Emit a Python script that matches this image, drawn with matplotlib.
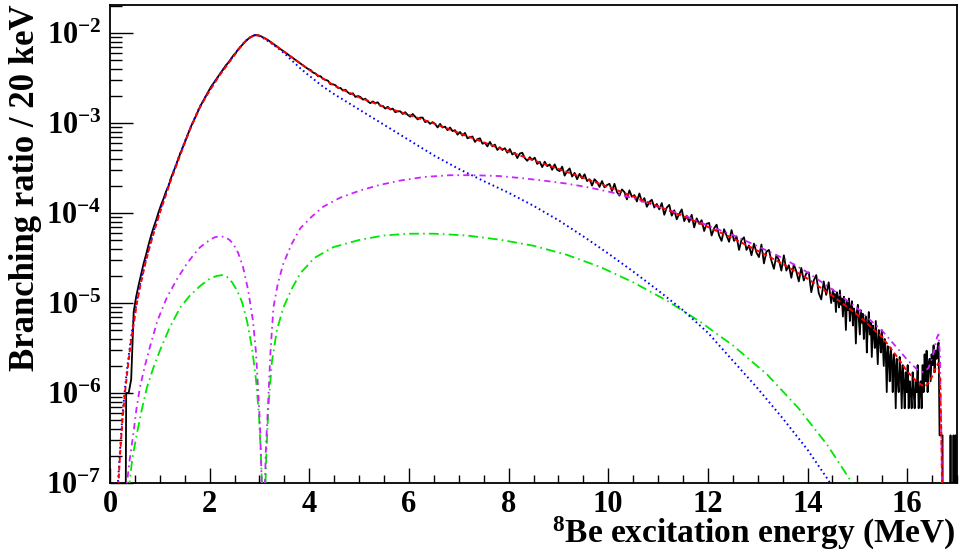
import numpy as np
import matplotlib
matplotlib.use("Agg")
import matplotlib.pyplot as plt
from matplotlib.ticker import LogLocator, MultipleLocator, NullFormatter

plt.rcParams["font.family"] = ["Liberation Serif", "DejaVu Serif"]
plt.rcParams["font.weight"] = "bold"
plt.rcParams["mathtext.fontset"] = "custom"
plt.rcParams["mathtext.rm"] = "Liberation Serif:bold"
plt.rcParams["mathtext.it"] = "Liberation Serif:bold"
plt.rcParams["mathtext.bf"] = "Liberation Serif:bold"
plt.rcParams["lines.scale_dashes"] = False

# ---------------------------------------------------------------------------
# Measured spectrum: log10(branching ratio per 20 keV); None marks an empty bin.
# 0 - 14.5 MeV in 50 keV steps
hist_log_coarse = [
    None, None, None, None, None, None, -6.00, -6.00, -5.85, -5.10, -4.93, -4.80, -4.68, -4.56, -4.46, -4.35, -4.25, -4.16, -4.08, -3.99,
    -3.91, -3.84, -3.76, -3.70, -3.61, -3.54, -3.47, -3.39, -3.32, -3.25, -3.18, -3.11, -3.04, -2.98, -2.92, -2.86, -2.80, -2.75, -2.70, -2.65,
    -2.60, -2.56, -2.52, -2.48, -2.44, -2.40, -2.36, -2.33, -2.29, -2.25, -2.22, -2.18, -2.15, -2.12, -2.09, -2.065, -2.045, -2.03, -2.022, -2.025,
    -2.035, -2.05, -2.065, -2.08, -2.10, -2.12, -2.14, -2.16, -2.18, -2.20, -2.22, -2.24, -2.26, -2.28, -2.30, -2.32, -2.34, -2.36, -2.38, -2.40,
    -2.41, -2.44, -2.45, -2.48, -2.48, -2.51, -2.52, -2.53, -2.57, -2.57, -2.58, -2.61, -2.61, -2.64, -2.63, -2.66, -2.68, -2.67, -2.71, -2.70,
    -2.71, -2.74, -2.73, -2.76, -2.78, -2.76, -2.78, -2.77, -2.81, -2.81, -2.84, -2.82, -2.85, -2.84, -2.88, -2.87, -2.87, -2.90, -2.88, -2.91,
    -2.93, -2.90, -2.93, -2.96, -2.94, -2.94, -2.99, -2.98, -3.01, -2.99, -3.01, -3.05, -3.01, -3.05, -3.04, -3.08, -3.05, -3.09, -3.08, -3.13,
    -3.10, -3.14, -3.11, -3.17, -3.16, -3.15, -3.21, -3.18, -3.17, -3.23, -3.22, -3.26, -3.21, -3.26, -3.24, -3.30, -3.27, -3.30, -3.28, -3.33,
    -3.29, -3.35, -3.33, -3.39, -3.34, -3.33, -3.39, -3.42, -3.38, -3.41, -3.385, -3.455, -3.43, -3.49, -3.43, -3.48, -3.46, -3.52, -3.46, -3.52,
    -3.535, -3.485, -3.585, -3.535, -3.505, -3.595, -3.555, -3.625, -3.565, -3.615, -3.57, -3.645, -3.625, -3.695, -3.625, -3.655, -3.71, -3.645, -3.715, -3.69,
    -3.675, -3.756, -3.676, -3.767, -3.807, -3.738, -3.768, -3.849, -3.749, -3.82, -3.801, -3.872, -3.783, -3.874, -3.835, -3.931, -3.877, -3.853, -3.939, -3.90,
    -3.96, -3.89, -4.02, -3.94, -3.91, -4.03, -3.97, -4.07, -4.01, -3.96, -4.09, -4.03, -4.10, -4.02, -4.16, -4.06, -4.12, -4.08, -4.20, -4.12,
    -4.11, -4.25, -4.17, -4.13, -4.25, -4.31, -4.18, -4.25, -4.32, -4.19, -4.31, -4.26, -4.41, -4.30, -4.27, -4.41, -4.36, -4.47, -4.34, -4.44,
    -4.49, -4.35, -4.56, -4.43, -4.41, -4.53, -4.62, -4.47, -4.52, -4.64, -4.47, -4.64, -4.58, -4.72, -4.57, -4.65, -4.76, -4.61, -4.75, -4.67,
    -4.66, -4.88, -4.75, -4.69, -4.89, -4.96, -4.76, -4.91, -4.77, -5.00,
]
# 14.5 - 17 MeV in 20 keV steps
hist_log_fine = [
    -4.85, -4.98, -4.90, -5.10, -4.88, -4.95, -5.05, -4.86, -5.02, -4.95,
    -5.15, -4.93, -5.02, -5.30, -4.98, -5.08, -4.95, -5.20, -5.05, -4.98,
    -5.25, -5.06, -5.12, -5.45, -5.10, -5.02, -5.18, -5.35, -5.08, -5.22,
    -5.12, -5.40, -5.20, -5.15, -5.55, -5.25, -5.10, -5.35, -5.22, -5.60,
    -5.25, -5.32, -5.50, -5.20, -5.45, -5.68, -5.30, -5.38, -5.55, -5.30,
    -5.45, -5.70, -5.40, -5.55, -5.99, -5.48, -5.60, -5.87, -5.50, -5.65,
    -5.99, -5.57, -5.69, -6.17, -5.62, -5.87, -5.99, -5.60, -5.77, -6.17,
    -5.69, -5.87, -6.17, -5.77, -5.99, -5.69, -6.17, -5.87, -5.99, -6.17,
    -5.77, -5.99, -6.17, -5.87, -5.99, -5.69, -6.17, -5.99, -5.87, -6.17,
    -5.69, -5.99, -5.57, -5.87, -5.53, -5.99, -5.69, -5.62, -5.87, -5.57,
    -5.69, -5.47, -5.77, -5.53, -5.62, -5.50, -5.44, -6.47, -6.47, -6.47,
    -6.47, None, None, None, None, None, None, None, -6.47, None,
    None, -6.47, None, -6.47, None,
]

# Fitted curves: excitation energy (MeV) and log10(branching ratio / 20 keV)
total_E = [0.14, 0.17, 0.2, 0.25, 0.3, 0.35, 0.4, 0.45, 0.5, 0.54, 0.6, 0.7, 0.8, 0.9, 1.0,
           1.2, 1.4, 1.6, 1.8, 2.0, 2.2, 2.4, 2.6, 2.7, 2.8, 2.9, 3.0, 3.1, 3.2, 3.4, 3.6,
           3.8, 4.0, 4.5, 5.0, 5.5, 6.0, 6.5, 7.0, 7.5, 8.0, 8.5, 9.0, 9.5, 10.0, 10.5,
           11.0, 11.5, 12.0, 12.5, 13.0, 13.5, 14.0, 14.5, 15.0, 15.5, 15.8, 16.0, 16.2,
           16.35, 16.45, 16.55, 16.62, 16.66, 16.69, 16.71]
total_log = [-7.3, -7.0, -6.7, -6.3, -6.0, -5.75, -5.52, -5.32, -5.15, -5.0, -4.83, -4.58,
             -4.37, -4.18, -4.0, -3.67, -3.37, -3.08, -2.83, -2.64, -2.47, -2.32, -2.17,
             -2.1, -2.055, -2.025, -2.03, -2.055, -2.09, -2.17, -2.25, -2.33, -2.41,
             -2.585, -2.715, -2.82, -2.91, -3.005, -3.11, -3.215, -3.315, -3.415, -3.51,
             -3.61, -3.71, -3.815, -3.925, -4.035, -4.155, -4.28, -4.42, -4.565, -4.73,
             -4.92, -5.13, -5.38, -5.6, -5.76, -5.88, -5.93, -5.88, -5.75, -5.67, -5.85,
             -6.6, -7.5]

ground_E = [0.13, 0.16, 0.2, 0.25, 0.3, 0.35, 0.4, 0.45, 0.5, 0.6, 0.7, 0.8, 0.9, 1.0, 1.2,
            1.4, 1.6, 1.8, 2.0, 2.2, 2.4, 2.6, 2.7, 2.8, 2.9, 3.0, 3.1, 3.2, 3.35, 3.5,
            3.65, 3.82, 4.0, 4.28, 4.5, 5.0, 5.5, 6.0, 6.5, 7.0, 7.5, 8.0, 8.5, 9.0, 9.5,
            10.0, 10.5, 11.0, 11.5, 12.0, 12.5, 13.0, 13.5, 14.0, 14.42, 14.6]
ground_log = [-7.3, -7.0, -6.65, -6.25, -5.95, -5.7, -5.48, -5.28, -5.1, -4.8, -4.56,
              -4.35, -4.16, -3.98, -3.65, -3.35, -3.07, -2.82, -2.63, -2.46, -2.31,
              -2.165, -2.1, -2.05, -2.025, -2.035, -2.065, -2.1, -2.16, -2.226, -2.305,
              -2.393, -2.475, -2.598, -2.68, -2.85, -3.02, -3.19, -3.36, -3.51, -3.645,
              -3.775, -3.92, -4.08, -4.26, -4.45, -4.65, -4.86, -5.08, -5.33, -5.64,
              -5.95, -6.28, -6.63, -6.97, -7.15]

high_E = [0.32, 0.34, 0.4, 0.47, 0.53, 0.6, 0.7, 0.8, 0.95, 1.14, 1.35, 1.54, 1.7, 1.81,
          2.0, 2.1, 2.21, 2.32, 2.4, 2.47, 2.57, 2.67, 2.77, 2.87, 2.93, 2.97, 3.01, 3.04,
          3.06, 3.08, 3.1, 3.13, 3.17, 3.22, 3.28, 3.37, 3.48, 3.65, 3.82, 4.05, 4.28,
          4.62, 5.02, 5.4, 5.82, 6.3, 6.83, 7.3, 7.83, 8.3, 8.77, 9.17, 9.6, 10.04, 10.5,
          11.0, 11.5, 12.0, 12.5, 13.0, 13.5, 14.0, 14.5, 15.0, 15.5, 15.8, 16.0, 16.2,
          16.33, 16.43, 16.52, 16.6, 16.63, 16.66, 16.69, 16.71]
high_log = [-7.3, -7.0, -6.72, -6.45, -6.18, -5.94, -5.7, -5.49, -5.2, -4.94, -4.73,
            -4.565, -4.45, -4.38, -4.3, -4.27, -4.257, -4.27, -4.3, -4.34, -4.44, -4.6,
            -4.85, -5.2, -5.55, -5.94, -6.35, -6.9, -7.6, -7.6, -7.2, -6.6, -6.16, -5.55,
            -5.05, -4.78, -4.56, -4.34, -4.17, -4.04, -3.93, -3.83, -3.75, -3.69, -3.64,
            -3.6, -3.58, -3.58, -3.59, -3.615, -3.645, -3.674, -3.715, -3.767, -3.835,
            -3.93, -4.02, -4.14, -4.245, -4.37, -4.5, -4.66, -4.85, -5.06, -5.31, -5.5,
            -5.63, -5.74, -5.77, -5.72, -5.58, -5.38, -5.35, -5.6, -6.6, -7.5]

interf_E = [0.37, 0.39, 0.45, 0.54, 0.64, 0.74, 0.87, 1.0, 1.2, 1.41, 1.6, 1.81, 2.0,
            2.14, 2.25, 2.35, 2.45, 2.55, 2.65, 2.75, 2.85, 2.93, 2.99, 3.03, 3.06, 3.075,
            3.095, 3.11, 3.14, 3.18, 3.25, 3.35, 3.48, 3.65, 3.82, 4.1, 4.48, 5.0, 5.49,
            6.0, 6.5, 7.16, 7.83, 8.5, 9.17, 9.84, 10.5, 11.18, 11.85, 12.51, 13.19,
            13.82, 14.4, 14.86, 15.0]
interf_log = [-7.3, -7.0, -6.72, -6.45, -6.18, -5.94, -5.72, -5.53, -5.27, -5.05, -4.92,
              -4.81, -4.73, -4.7, -4.69, -4.71, -4.77, -4.86, -4.99, -5.2, -5.5, -5.85,
              -6.25, -6.7, -7.2, -7.6, -7.6, -7.2, -6.65, -6.15, -5.65, -5.3, -5.05,
              -4.84, -4.67, -4.5, -4.38, -4.3, -4.25, -4.23, -4.23, -4.25, -4.297,
              -4.364, -4.465, -4.6, -4.77, -4.975, -5.21, -5.475, -5.795, -6.17, -6.58,
              -6.97, -7.1]

x_ticks = [0, 2, 4, 6, 8, 10, 12, 14, 16]
y_decades = [-7, -6, -5, -4, -3, -2]

# ---------------------------------------------------------------------------
fig = plt.figure(figsize=(9.6, 5.53), dpi=100)
ax = fig.add_axes([110 / 960, 70 / 553, 847 / 960, 478 / 553])
ax.set_yscale("log")


def to_linear(logs):
    return np.array([1e-12 if v is None else 10.0 ** v for v in logs])


edges_coarse = np.linspace(0.0, 14.5, len(hist_log_coarse) + 1)
edges_fine = np.linspace(14.5, 17.0, len(hist_log_fine) + 1)
centers = np.concatenate([0.5 * (edges_coarse[:-1] + edges_coarse[1:]),
                          0.5 * (edges_fine[:-1] + edges_fine[1:])])
counts = np.concatenate([to_linear(hist_log_coarse), to_linear(hist_log_fine)])

# spectrum drawn as a polyline through the bin centres
ax.plot(centers, counts, color="black", lw=1.3, zorder=2)

ax.plot(interf_E, to_linear(interf_log), color="#00e600", lw=1.3,
        linestyle=(0, (7, 3, 1.2, 3)), zorder=3)
ax.plot(high_E, to_linear(high_log), color="#cc22ff", lw=1.3,
        linestyle=(0, (4.5, 3, 1.2, 3)), zorder=3)
ax.plot(ground_E, to_linear(ground_log), color="#0000ff", lw=1.4,
        linestyle=(0, (1.2, 2.2)), zorder=4)
ax.plot(total_E, to_linear(total_log), color="#ff0000", lw=1.4,
        linestyle=(0, (3.5, 2.2)), zorder=4)

ax.set_xlim(0, 17)
ax.set_ylim(1e-7, 10 ** -1.689)

ax.xaxis.set_minor_locator(MultipleLocator(0.5))
ax.set_xticks(x_ticks)
ax.set_xticklabels([str(t) for t in x_ticks])
ax.yaxis.set_minor_locator(LogLocator(base=10, subs=np.arange(2, 10), numticks=20))
ax.yaxis.set_minor_formatter(NullFormatter())
ax.set_yticks([10.0 ** d for d in y_decades])
ax.set_yticklabels([r"$10^{%d}$" % d for d in y_decades])

ax.tick_params(axis="both", which="both", direction="in", top=False, right=False,
               labelsize=22, width=1.0, color="black")
ax.tick_params(axis="y", which="major", length=16.5, pad=6)
ax.tick_params(axis="y", which="minor", length=8.5)
ax.tick_params(axis="x", which="major", length=11, pad=5)
ax.tick_params(axis="x", which="minor", length=6)
for lbl in ax.get_xticklabels() + ax.get_yticklabels():
    lbl.set_fontweight("bold")

for sp in ax.spines.values():
    sp.set_linewidth(1.3)
    sp.set_color("black")

fig.text(26 / 960, 1 - 4 / 553, "Branching ratio / 20 keV", rotation=90,
         ha="center", va="top", fontsize=25, fontweight="bold")
fig.text(956 / 960, 10 / 553, r"$^{8}$Be excitation energy (MeV)",
         ha="right", va="baseline", fontsize=24, fontweight="bold")

fig.savefig("out.png", dpi=100)
